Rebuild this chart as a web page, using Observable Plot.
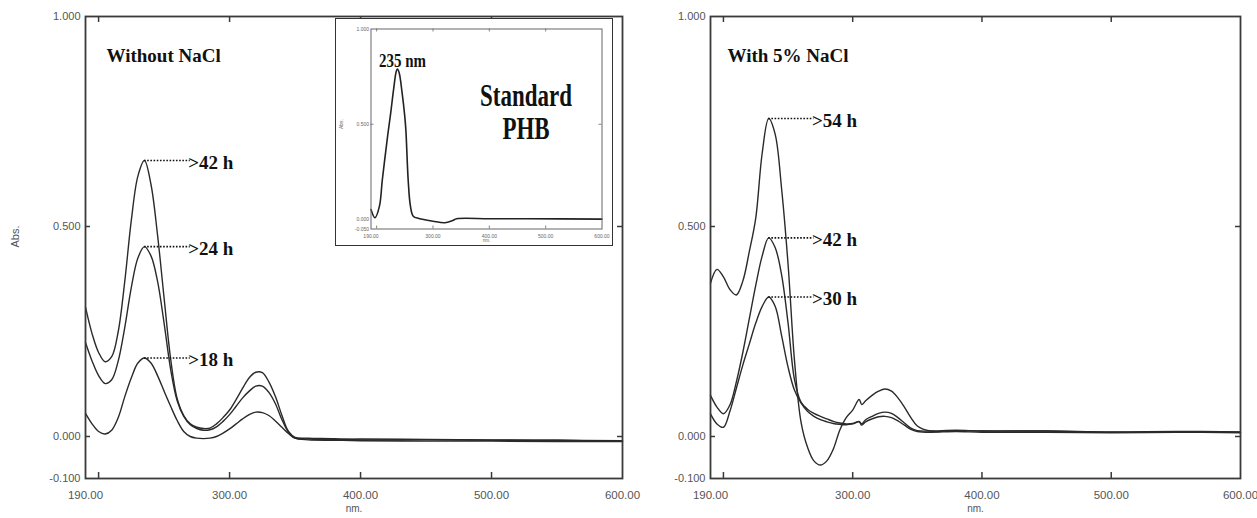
<!DOCTYPE html>
<html><head><meta charset="utf-8">
<script src="https://cdn.jsdelivr.net/npm/d3@7"></script>
<script src="https://cdn.jsdelivr.net/npm/@observablehq/plot@0.6"></script>
<style>
body{margin:0;background:#fff;}
#root{position:relative;width:1257px;height:518px;overflow:hidden;background:#fff;}
#root svg{overflow:visible;}
</style></head><body><div id="root"></div>
<script>
// ---------- data ----------
const xTickLabels = [190, 300, 400, 500, 600];
const xTickMarks = [200, 300, 400, 500];
const yTickLabels = [1.0, 0.5, 0.0, -0.1];
const yTickMarks = [0.5, 0.0];
const insetYTickLabels = [1.0, 0.5, 0.0, -0.05];
const insetYTickMarks = [0.5];

const titleLeft = "Without NaCl";
const titleRight = "With 5% NaCl";
const stdPeakLabel = "235 nm";
const stdTitle1 = "Standard";
const stdTitle2 = "PHB";

// Without NaCl
const nmLeft = [190,195,200,205,210,215,220,225,230,235,240,245,250,255,260,265,270,275,280,285,290,295,300,305,310,315,320,325,330,335,340,345,350,360,380,400,450,500,550,600];
const abs42hNoSalt = [0.308,0.245,0.200,0.178,0.190,0.250,0.370,0.515,0.620,0.657,0.600,0.480,0.330,0.185,0.090,0.050,0.030,0.022,0.019,0.020,0.030,0.045,0.063,0.088,0.115,0.140,0.153,0.152,0.130,0.095,0.050,0.012,-0.002,-0.004,-0.005,-0.008,-0.008,-0.009,-0.009,-0.010];
const abs24hNoSalt = [0.224,0.180,0.145,0.126,0.135,0.180,0.260,0.355,0.425,0.452,0.430,0.370,0.270,0.160,0.085,0.048,0.028,0.019,0.015,0.016,0.023,0.036,0.052,0.072,0.092,0.108,0.120,0.120,0.105,0.078,0.040,0.010,-0.004,-0.006,-0.007,-0.006,-0.007,-0.008,-0.009,-0.011];
const abs18hNoSalt = [0.055,0.030,0.012,0.006,0.015,0.045,0.095,0.140,0.175,0.187,0.175,0.145,0.108,0.072,0.038,0.012,0.000,-0.004,-0.005,-0.004,0.000,0.008,0.018,0.030,0.042,0.052,0.058,0.057,0.050,0.037,0.022,0.007,-0.004,-0.008,-0.009,-0.010,-0.011,-0.011,-0.012,-0.012];

// With 5% NaCl
const nmRight = [190,195,200,205,210,215,220,225,230,235,240,245,250,255,260,265,270,275,280,285,290,295,300,305,307,310,315,320,325,330,335,340,345,350,360,380,400,450,500,550,600];
const abs54hSalt = [0.365,0.398,0.380,0.350,0.337,0.370,0.440,0.520,0.675,0.757,0.720,0.590,0.410,0.180,0.035,-0.025,-0.058,-0.068,-0.058,-0.030,0.015,0.045,0.063,0.088,0.076,0.085,0.098,0.108,0.113,0.108,0.092,0.070,0.045,0.025,0.013,0.014,0.013,0.013,0.010,0.011,0.010];
const abs42hSalt = [0.098,0.070,0.054,0.075,0.130,0.200,0.280,0.360,0.430,0.473,0.450,0.385,0.270,0.135,0.082,0.065,0.055,0.048,0.042,0.036,0.032,0.030,0.031,0.036,0.030,0.040,0.048,0.055,0.058,0.055,0.045,0.032,0.020,0.014,0.013,0.015,0.013,0.013,0.011,0.012,0.011];
const abs30hSalt = [0.054,0.030,0.022,0.060,0.115,0.170,0.220,0.270,0.310,0.332,0.310,0.240,0.165,0.110,0.080,0.060,0.048,0.040,0.035,0.031,0.029,0.028,0.030,0.035,0.027,0.035,0.042,0.047,0.048,0.045,0.037,0.027,0.017,0.012,0.010,0.012,0.010,0.010,0.009,0.010,0.009];

// Standard PHB (inset)
const nmStd = [190,197,205,210,215,220,225,230,235,237,240,245,250,252,256,260,265,275,300,321,335,342,400,470,600];
const absStd = [0.052,0.009,0.070,0.206,0.330,0.450,0.560,0.680,0.780,0.790,0.770,0.670,0.540,0.464,0.206,0.070,0.017,0.005,-0.009,-0.017,-0.005,0.004,0.004,0.004,0.002];

// ---------- helpers ----------
const serif = "'Liberation Serif', 'Times New Roman', serif";
const sans = "'Liberation Sans', Arial, sans-serif";
const AX = "#555";
const FR = "#3a3a3a";
const LINE = "#2a2a2a";

function toRows(nm, abs, series) { return nm.map((x, i) => ({nm: x, abs: abs[i], series})); }
function peakOf(rows) { return d3.greatest(rows.filter(d => d.nm < 300), d => d.abs); }

function panel({width, marginLeft, marginRight, groups, title, titleDx, showAbs}) {
  const height = 518, marginTop = 16, marginBottom = 40;
  const plotW = width - marginLeft - marginRight, plotH = height - marginTop - marginBottom;
  const data = groups.flat();
  const peaks = groups.map(peakOf);
  const off = 35;
  return Plot.plot({
    width, height, marginLeft, marginRight, marginTop, marginBottom,
    x: {domain: [190, 600]},
    y: {domain: [-0.1, 1.0]},
    style: {fontFamily: sans, background: "transparent", overflow: "visible"},
    marks: [
      Plot.line(data, {x: "nm", y: "abs", z: "series", stroke: LINE, strokeWidth: 1.4, curve: "catmull-rom"}),
      Plot.frame({stroke: FR, strokeWidth: 1.8}),
      Plot.tickX(xTickMarks, {x: d => d, insetTop: plotH - 6, stroke: FR, strokeWidth: 1.5}),
      Plot.tickX(xTickMarks, {x: d => d, insetBottom: plotH - 6, stroke: FR, strokeWidth: 1.5}),
      Plot.tickY(yTickMarks, {y: d => d, insetRight: plotW - 5, stroke: FR, strokeWidth: 1.5}),
      Plot.tickY(yTickMarks, {y: d => d, insetLeft: plotW - 5, stroke: FR, strokeWidth: 1.5}),
      Plot.axisX(xTickLabels, {tickSize: 0, tickPadding: 12, tickFormat: d => d.toFixed(2), fontSize: 11.5, color: AX, label: null}),
      Plot.axisY(yTickLabels, {tickSize: 0, tickPadding: 5, tickFormat: d => d.toFixed(3), fontSize: 11, color: AX, label: null}),
      Plot.text(["nm."], {frameAnchor: "bottom", dy: 33, fontSize: 10, fill: AX}),
      showAbs ? Plot.text(["Abs."], {frameAnchor: "left", dx: -70, rotate: -90, fontSize: 11, fill: AX}) : null,
      Plot.text([title], {frameAnchor: "top-left", dx: titleDx, dy: 32, textAnchor: "start", fontFamily: serif, fontWeight: "bold", fontSize: 19, fill: "#111"}),
      Plot.ruleY(peaks, {y: "abs", x1: "nm", x2: d => d.nm + off, strokeDasharray: "1.6,1.6", strokeWidth: 1.6, stroke: "#111"}),
      Plot.text(peaks, {x: d => d.nm + off, y: "abs", text: d => ">" + d.series, textAnchor: "start", dx: -2, dy: 2, fontFamily: serif, fontWeight: "bold", fontSize: 19, fill: "#111"})
    ]
  });
}

function insetPlot() {
  const width = 276, height = 226, marginLeft = 34.5, marginRight = 10.5, marginTop = 9.5, marginBottom = 16.5;
  const plotW = width - marginLeft - marginRight, plotH = height - marginTop - marginBottom;
  const rows = toRows(nmStd, absStd, "std");
  const peak = peakOf(rows);
  return Plot.plot({
    width, height, marginLeft, marginRight, marginTop, marginBottom,
    x: {domain: [190, 600]},
    y: {domain: [-0.05, 1.0]},
    style: {fontFamily: sans, background: "#fff", overflow: "visible"},
    marks: [
      Plot.line(rows, {x: "nm", y: "abs", stroke: "#222", strokeWidth: 1.6, curve: "catmull-rom"}),
      Plot.frame({stroke: "#666", strokeWidth: 1}),
      Plot.tickX(xTickMarks, {x: d => d, insetTop: plotH - 3, stroke: "#666", strokeWidth: 0.8}),
      Plot.tickX(xTickMarks, {x: d => d, insetBottom: plotH - 3, stroke: "#666", strokeWidth: 0.8}),
      Plot.tickY(insetYTickMarks, {y: d => d, insetRight: plotW - 3, stroke: "#666", strokeWidth: 0.8}),
      Plot.tickY(insetYTickMarks, {y: d => d, insetLeft: plotW - 3, stroke: "#666", strokeWidth: 0.8}),
      Plot.axisX(xTickLabels, {tickSize: 0, tickPadding: 5, tickFormat: d => d.toFixed(2), fontSize: 5, color: "#666", label: null}),
      Plot.axisY(insetYTickLabels, {tickSize: 0, tickPadding: 2, tickFormat: d => d.toFixed(3), fontSize: 5, color: "#666", label: null}),
      Plot.text(["nm."], {frameAnchor: "bottom", dy: 13, fontSize: 4.5, fill: "#666"}),
      Plot.text(["Abs."], {frameAnchor: "left", dx: -30, rotate: -90, fontSize: 5, fill: "#666"}),
      Plot.text([peak], {x: "nm", y: "abs", text: () => stdPeakLabel, dx: 5, dy: -8, fontFamily: serif, fontWeight: "bold", fontSize: 18, fill: "#111", ariaLabel: () => "condensed-83"}),
      Plot.text([stdTitle1], {frameAnchor: "top-left", dx: 155, dy: 55, textAnchor: "middle", fontFamily: serif, fontWeight: "bold", fontSize: 31, fill: "#111", ariaLabel: () => "condensed-74"}),
      Plot.text([stdTitle2], {frameAnchor: "top-left", dx: 155, dy: 88, textAnchor: "middle", fontFamily: serif, fontWeight: "bold", fontSize: 31, fill: "#111", ariaLabel: () => "condensed-74"})
    ]
  });
}

function condense(svg) {
  svg.querySelectorAll('[aria-label^="condensed"]').forEach(el => {
    const f = +el.getAttribute("aria-label").split("-")[1] / 100;
    const texts = el.tagName.toLowerCase() === "text" ? [el] : Array.from(el.querySelectorAll("text"));
    texts.forEach(t => {
      const w = t.getComputedTextLength();
      if (w > 0) {
        t.setAttribute("textLength", (w * f).toFixed(1));
        t.setAttribute("lengthAdjust", "spacingAndGlyphs");
      }
    });
  });
}

// ---------- build ----------
const root = document.getElementById("root");

const left = panel({
  width: 630, marginLeft: 85, marginRight: 8,
  groups: [toRows(nmLeft, abs42hNoSalt, "42 h"), toRows(nmLeft, abs24hNoSalt, "24 h"), toRows(nmLeft, abs18hNoSalt, "18 h")],
  title: titleLeft, titleDx: 21, showAbs: true
});
left.style.position = "absolute"; left.style.left = "0px"; left.style.top = "0px";
root.appendChild(left);

const right = panel({
  width: 627, marginLeft: 80, marginRight: 17,
  groups: [toRows(nmRight, abs54hSalt, "54 h"), toRows(nmRight, abs42hSalt, "42 h"), toRows(nmRight, abs30hSalt, "30 h")],
  title: titleRight, titleDx: 17, showAbs: false
});
right.style.position = "absolute"; right.style.left = "630px"; right.style.top = "0px";
root.appendChild(right);

const box = document.createElement("div");
Object.assign(box.style, {position: "absolute", left: "335px", top: "18px", border: "1.5px solid #333", background: "#fff", lineHeight: "0"});
const ins = insetPlot();
box.appendChild(ins);
root.appendChild(box);
condense(ins);
</script>
</body></html>
